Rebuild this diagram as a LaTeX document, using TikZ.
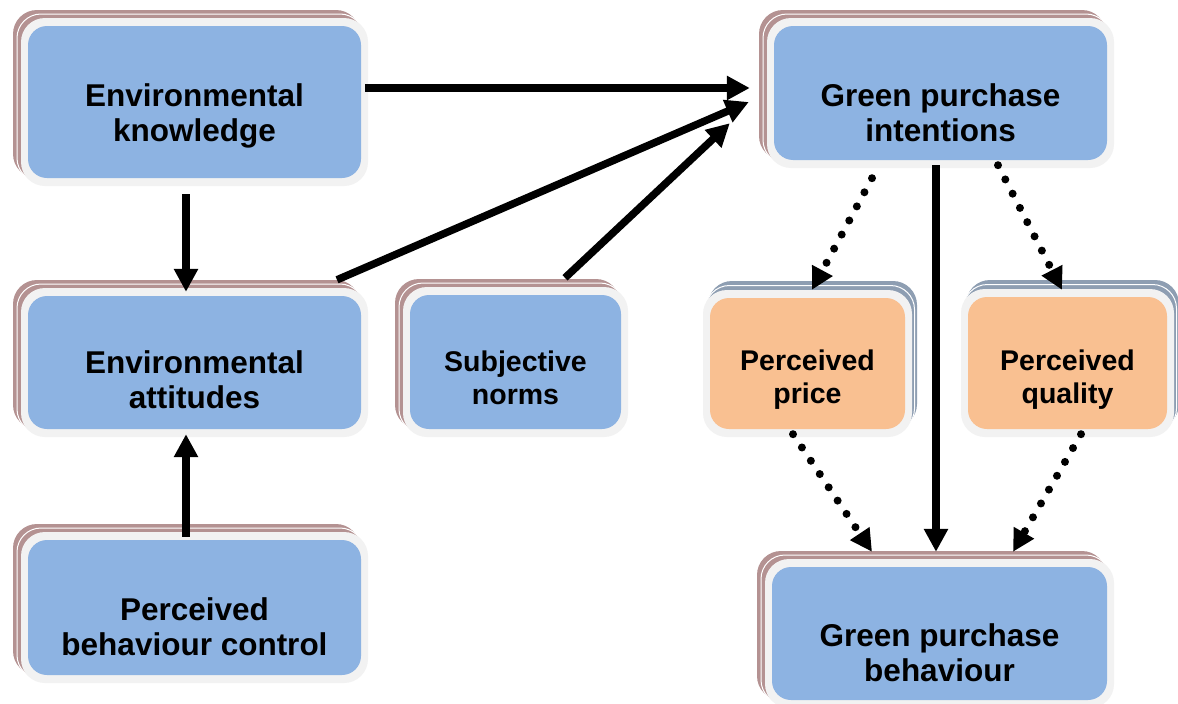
\documentclass[tikz,border=0pt]{standalone}
\usepackage{fontspec}
\setmainfont{Liberation Sans}
\usetikzlibrary{arrows.meta,calc}

\definecolor{boxblue}{RGB}{141,179,226}
\definecolor{boxorange}{RGB}{249,192,145}
\definecolor{rimgrey}{RGB}{242,242,242}
\definecolor{shbrown}{RGB}{180,146,146}
\definecolor{shslate}{RGB}{142,158,178}

\tikzset{
  arr/.style={line width=7.5pt, -{Triangle[length=23pt,width=23pt]}},
  dotarr/.style={line width=8pt, dash pattern=on 0pt off 16pt, line cap=round,
                 -{Triangle[length=22pt,width=22pt]}},
  bluebox/.style={fill=boxblue},
  orangebox/.style={fill=boxorange},
  bigtext/.style={font=\bfseries\fontsize{31.5}{35}\selectfont, align=center,
                  anchor=north, inner sep=0pt},
  smalltext/.style={font=\bfseries\fontsize{28.5}{33}\selectfont, align=center,
                    anchor=north, inner sep=0pt},
}

% #1 name, #2-#5 outer rim corners (x1,y1,x2,y2), #6 fill style,
% #7 shadow colour, #8 #9 shadow offset
\newcommand\panel[9]{%
  \fill[#7, rounded corners=24pt, shift={(#8,#9)}] (#2,#3) rectangle (#4,#5);
  \filldraw[fill=#7, draw=white, line width=1pt, rounded corners=24pt,
            shift={({#8/2},{#9/2})}] (#2,#3) rectangle (#4,#5);
  \fill[rimgrey, rounded corners=24pt] (#2,#3) rectangle (#4,#5);
  \node[#6, rectangle, rounded corners=19pt, inner sep=0pt,
        minimum width={#4-#2-14}, minimum height={#5-#3-16}]
        (#1) at ({(#2+#4)/2},{(#3+#5)/2}) {};
}

\begin{document}
\begin{tikzpicture}[x=1pt, y=-1pt]
\useasboundingbox (0,0) rectangle (1178,704);
\fill[white] (0,0) rectangle (1178,704);

% boxes
\panel{ek}{21}{18}{368}{186}{bluebox}{shbrown}{-8}{-8}
\panel{ea}{21}{288}{368}{437}{bluebox}{shbrown}{-8}{-8}
\panel{pbc}{21}{532}{368}{683}{bluebox}{shbrown}{-8}{-8}
\panel{sn}{403}{287}{628}{437}{bluebox}{shbrown}{-8}{-8}
\panel{gpi}{767}{18}{1114}{168}{bluebox}{shbrown}{-8}{-8}
\panel{pp}{703}{290}{912}{437}{orangebox}{shslate}{5}{-9}
\panel{pq}{961}{289}{1174}{437}{orangebox}{shslate}{5}{-9}
\panel{gpb}{765}{559}{1114}{708}{bluebox}{shbrown}{-8}{-8}

% labels
\node[bigtext]   (tek)  at (194.5,83)  {Environmental\\knowledge};
\node[bigtext]   (tea)  at (194.5,350) {Environmental\\attitudes};
\node[bigtext]   (tpbc) at (194.5,597) {Perceived\\behaviour control};
\node[smalltext] (tsn)  at (515.5,351) {Subjective\\norms};
\node[bigtext]   (tgpi) at (940.5,83)  {Green purchase\\intentions};
\node[smalltext] (tpp)  at (807.5,350) {Perceived\\price};
\node[smalltext] (tpq)  at (1067.5,350) {Perceived\\quality};
\node[bigtext]   (tgpb) at (939.5,623) {Green purchase\\behaviour};

% solid connectors
\draw[arr] ($(ek.south)+(-8.5,16)$) -- ($(ea.north)+(-8.5,-4)$);
\draw[arr] ($(pbc.north)+(-8.5,-3)$) -- ($(ea.south)+(-8.5,5)$);
\draw[arr] ($(ek.east)+(4,-14)$) -- ($(gpi.west)+(-24,-5)$);
\draw[arr] ($(ea.north)+(142.5,-16)$) -- ($(gpi.west)+(-25,9)$);
\draw[arr] ($(sn.north)+(49.5,-17)$) -- ($(gpi.south west)+(-44,-37)$);
\draw[arr] ($(gpi.south)+(-4.5,5)$) -- ($(gpb.north)+(-3.5,-15)$);

% dotted connectors
\draw[dotarr] ($(gpi.south)+(-68.5,18)$) -- ($(pp.north)+(4.5,-8)$);
\draw[dotarr] ($(gpi.south)+(57.5,5)$) -- ($(pq.north)+(-5.5,-7)$);
\draw[dotarr] ($(pp.south)+(-14.5,5)$) -- ($(gpb.north)+(-67.5,-15)$);
\draw[dotarr] ($(pq.south)+(13.5,5)$) -- ($(gpb.north)+(73.5,-15)$);
\end{tikzpicture}
\end{document}
